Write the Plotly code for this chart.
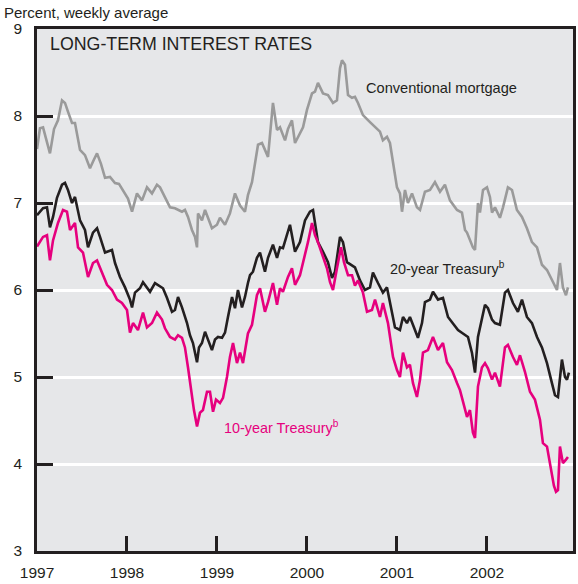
import plotly.graph_objects as go
import numpy as np

# ---- data (offsets in years from Jan 1997, rates in percent) ----
mort_t = [0.000, 0.011, 0.033, 0.067, 0.100, 0.144, 0.189, 0.233, 0.278, 0.311, 0.344, 0.389, 0.422, 0.478,
          0.533, 0.589, 0.633, 0.667, 0.711, 0.756, 0.811, 0.867, 0.911, 0.956, 1.011, 1.056, 1.111, 1.167,
          1.222, 1.278, 1.333, 1.367, 1.422, 1.478, 1.533, 1.611, 1.644, 1.678, 1.722, 1.756, 1.778, 1.789,
          1.833, 1.867, 1.900, 1.944, 2.000, 2.033, 2.089, 2.144, 2.200, 2.256, 2.311, 2.344, 2.389, 2.422,
          2.456, 2.500, 2.533, 2.567, 2.622, 2.667, 2.700, 2.756, 2.789, 2.833, 2.867, 2.922, 2.956, 3.000,
          3.056, 3.089, 3.122, 3.178, 3.233, 3.289, 3.333, 3.367, 3.389, 3.422, 3.456, 3.500, 3.533, 3.567,
          3.622, 3.700, 3.756, 3.811, 3.844, 3.889, 3.922, 3.956, 4.000, 4.033, 4.056, 4.089, 4.122, 4.167,
          4.222, 4.256, 4.311, 4.367, 4.422, 4.478, 4.533, 4.589, 4.667, 4.722, 4.756, 4.778, 4.844, 4.867,
          4.900, 4.922, 4.956, 5.000, 5.033, 5.056, 5.089, 5.144, 5.178, 5.233, 5.278, 5.333, 5.389, 5.444,
          5.500, 5.556, 5.611, 5.667, 5.722, 5.778, 5.811, 5.844, 5.878, 5.900]
mort_v = [7.62, 7.72, 7.86, 7.87, 7.75, 7.57, 7.85, 7.95, 8.18, 8.15, 8.05, 7.92, 7.92, 7.61,
          7.55, 7.40, 7.50, 7.57, 7.45, 7.29, 7.30, 7.23, 7.22, 7.15, 7.05, 6.90, 7.11, 7.03,
          7.18, 7.11, 7.21, 7.18, 7.06, 6.95, 6.94, 6.90, 6.92, 6.84, 6.69, 6.61, 6.49, 6.88,
          6.80, 6.92, 6.83, 6.71, 6.75, 6.83, 6.75, 6.88, 7.11, 6.97, 6.90, 7.09, 7.24, 7.44,
          7.67, 7.69, 7.60, 7.53, 8.15, 7.84, 7.87, 7.72, 7.85, 7.95, 7.69, 7.80, 7.87, 8.07,
          8.26, 8.28, 8.38, 8.26, 8.24, 8.15, 8.18, 8.55, 8.64, 8.59, 8.24, 8.21, 8.22, 8.15,
          8.01, 7.93, 7.87, 7.82, 7.72, 7.76, 7.69, 7.46, 7.18, 7.11, 6.90, 7.15, 7.00, 7.11,
          6.95, 6.92, 7.13, 7.15, 7.24, 7.13, 7.21, 7.03, 6.92, 6.89, 6.69, 6.66, 6.49, 6.46,
          7.00, 6.89, 7.15, 7.18, 7.07, 6.89, 6.95, 6.83, 6.95, 7.18, 7.15, 6.92, 6.84, 6.71,
          6.55, 6.49, 6.29, 6.23, 6.11, 6.00, 6.31, 6.03, 5.94, 6.03]

t20_t = [0.000, 0.067, 0.111, 0.144, 0.178, 0.222, 0.278, 0.311, 0.344, 0.389, 0.422, 0.478, 0.533, 0.567,
         0.622, 0.667, 0.700, 0.756, 0.833, 0.867, 0.922, 0.978, 1.033, 1.056, 1.089, 1.144, 1.178, 1.222,
         1.256, 1.311, 1.344, 1.400, 1.444, 1.500, 1.533, 1.567, 1.611, 1.667, 1.700, 1.733, 1.778, 1.800,
         1.833, 1.867, 1.900, 1.944, 1.978, 2.011, 2.056, 2.089, 2.122, 2.167, 2.200, 2.233, 2.278, 2.311,
         2.344, 2.367, 2.400, 2.444, 2.478, 2.533, 2.567, 2.622, 2.667, 2.700, 2.733, 2.778, 2.811, 2.867,
         2.922, 2.978, 3.033, 3.067, 3.089, 3.122, 3.178, 3.233, 3.278, 3.311, 3.367, 3.400, 3.444, 3.500,
         3.533, 3.589, 3.644, 3.700, 3.733, 3.789, 3.844, 3.889, 3.922, 3.978, 4.033, 4.067, 4.111, 4.144,
         4.200, 4.233, 4.278, 4.311, 4.367, 4.400, 4.456, 4.511, 4.567, 4.622, 4.678, 4.733, 4.789, 4.833,
         4.867, 4.900, 4.944, 4.978, 5.011, 5.056, 5.089, 5.144, 5.200, 5.233, 5.289, 5.344, 5.389, 5.444,
         5.500, 5.556, 5.611, 5.667, 5.722, 5.756, 5.789, 5.833, 5.867, 5.889, 5.911]
t20_v = [6.86, 6.94, 6.95, 6.72, 6.84, 7.06, 7.21, 7.23, 7.15, 7.00, 7.07, 6.80, 6.69, 6.49,
         6.66, 6.71, 6.61, 6.43, 6.46, 6.31, 6.15, 6.03, 5.89, 5.80, 5.97, 6.02, 6.09, 6.03,
         5.98, 6.08, 6.06, 6.02, 5.91, 5.75, 5.77, 5.92, 5.80, 5.62, 5.48, 5.39, 5.17, 5.34,
         5.39, 5.52, 5.43, 5.31, 5.43, 5.46, 5.45, 5.51, 5.69, 5.92, 5.79, 6.00, 5.80, 5.92,
         6.08, 6.17, 6.21, 6.37, 6.43, 6.21, 6.37, 6.52, 6.37, 6.49, 6.48, 6.63, 6.75, 6.44,
         6.55, 6.80, 6.90, 6.92, 6.75, 6.55, 6.44, 6.32, 6.14, 6.21, 6.61, 6.55, 6.32, 6.28,
         6.26, 6.11, 6.00, 6.03, 6.20, 6.08, 5.97, 6.03, 5.85, 5.57, 5.54, 5.69, 5.62, 5.69,
         5.54, 5.45, 5.62, 5.86, 5.89, 5.98, 5.89, 5.91, 5.69, 5.62, 5.54, 5.50, 5.46, 5.28,
         5.05, 5.46, 5.68, 5.83, 5.79, 5.66, 5.62, 5.60, 5.97, 6.00, 5.85, 5.75, 5.89, 5.69,
         5.62, 5.46, 5.34, 5.16, 4.93, 4.79, 4.77, 5.20, 5.00, 4.97, 5.05]

t10_t = [0.000, 0.067, 0.111, 0.144, 0.178, 0.233, 0.289, 0.333, 0.367, 0.422, 0.456, 0.511, 0.567, 0.622,
         0.667, 0.722, 0.778, 0.833, 0.889, 0.944, 1.000, 1.033, 1.067, 1.122, 1.178, 1.222, 1.278, 1.333,
         1.389, 1.422, 1.478, 1.533, 1.567, 1.611, 1.644, 1.678, 1.711, 1.744, 1.778, 1.811, 1.844, 1.889,
         1.922, 1.956, 1.989, 2.033, 2.067, 2.111, 2.144, 2.178, 2.222, 2.256, 2.289, 2.344, 2.389, 2.444,
         2.478, 2.533, 2.567, 2.622, 2.667, 2.700, 2.733, 2.789, 2.833, 2.867, 2.922, 2.978, 3.011, 3.056,
         3.089, 3.122, 3.178, 3.222, 3.256, 3.289, 3.333, 3.378, 3.411, 3.456, 3.500, 3.533, 3.567, 3.622,
         3.667, 3.722, 3.756, 3.811, 3.844, 3.900, 3.956, 4.000, 4.033, 4.067, 4.111, 4.144, 4.178, 4.222,
         4.256, 4.289, 4.344, 4.400, 4.456, 4.511, 4.556, 4.611, 4.667, 4.700, 4.733, 4.778, 4.811, 4.844,
         4.867, 4.900, 4.944, 4.978, 5.011, 5.056, 5.089, 5.144, 5.200, 5.233, 5.289, 5.333, 5.367, 5.422,
         5.478, 5.533, 5.589, 5.622, 5.667, 5.711, 5.744, 5.767, 5.789, 5.811, 5.844, 5.878, 5.900]
t10_v = [6.50, 6.61, 6.63, 6.34, 6.57, 6.77, 6.92, 6.90, 6.69, 6.77, 6.49, 6.43, 6.15, 6.31,
         6.34, 6.21, 6.06, 6.00, 5.89, 5.85, 5.77, 5.51, 5.62, 5.54, 5.74, 5.57, 5.62, 5.74,
         5.66, 5.56, 5.46, 5.43, 5.48, 5.45, 5.34, 5.11, 4.85, 4.62, 4.43, 4.59, 4.62, 4.83,
         4.83, 4.60, 4.74, 4.70, 4.76, 5.00, 5.23, 5.39, 5.16, 5.28, 5.16, 5.50, 5.60, 5.94,
         6.02, 5.75, 5.86, 6.08, 5.83, 6.02, 5.98, 6.15, 6.25, 6.06, 6.17, 6.40, 6.55, 6.77,
         6.63, 6.55, 6.37, 6.25, 6.09, 6.00, 6.25, 6.49, 6.32, 6.17, 6.17, 6.05, 6.11, 5.97,
         5.75, 5.77, 5.89, 5.69, 5.85, 5.62, 5.23, 5.08, 5.00, 5.28, 5.11, 5.14, 4.93, 4.77,
         4.97, 5.28, 5.31, 5.46, 5.31, 5.39, 5.17, 5.08, 4.93, 4.85, 4.72, 4.54, 4.62, 4.36,
         4.30, 4.89, 5.11, 5.16, 5.10, 4.97, 5.05, 4.89, 5.34, 5.37, 5.23, 5.14, 5.25, 5.06,
         4.83, 4.74, 4.51, 4.24, 4.20, 3.93, 3.75, 3.68, 3.70, 4.20, 4.01, 4.05, 4.08]

start_year = 1997
year_ticks = [1997, 1998, 1999, 2000, 2001, 2002]
y_ticks = [3, 4, 5, 6, 7, 8, 9]

FONT = "Liberation Sans, Arial, Helvetica, sans-serif"
TXT = "#231f20"
PINK = "#e6007e"

fig = go.Figure()
series = [
    (mort_t, mort_v, "Conventional mortgage", "#9a9a9a"),
    (t20_t, t20_v, "20-year Treasury", "#231f20"),
    (t10_t, t10_v, "10-year Treasury", PINK),
]
for t, v, name, col in series:
    fig.add_trace(go.Scatter(x=start_year + np.array(t), y=v, mode="lines", name=name,
                             line=dict(color=col, width=2.6), showlegend=False))

fig.update_layout(
    template="none",
    width=578, height=584,
    margin=dict(l=37, r=5, t=29, b=33, autoexpand=False),
    paper_bgcolor="white", plot_bgcolor="#e6e7e9",
    font=dict(family=FONT, color=TXT, size=15),
)
fig.update_xaxes(range=[1997, 2002.956], tickvals=year_ticks, ticktext=[str(y) for y in year_ticks],
                 showgrid=False, zeroline=False, showline=True, linecolor=TXT, linewidth=2.5, mirror=True,
                 ticks="inside", ticklen=15, tickwidth=2.5, tickcolor=TXT, ticklabelstandoff=6,
                 automargin=False, tickfont=dict(family=FONT, size=15.5, color=TXT))
fig.update_yaxes(range=[3, 9], tickvals=y_ticks, showgrid=True, gridcolor="white", gridwidth=3,
                 zeroline=False, showline=True, linecolor=TXT, linewidth=2.5, mirror=True,
                 ticks="inside", ticklen=16, tickwidth=2.5, tickcolor=TXT, ticklabelstandoff=9,
                 automargin=False, tickfont=dict(family=FONT, size=15.5, color=TXT))

fig.add_annotation(xref="paper", yref="paper", x=-0.0653, y=1.0307, xanchor="left", yanchor="middle",
                   text="Percent, weekly average", showarrow=False, font=dict(family=FONT, size=15, color=TXT))
fig.add_annotation(xref="paper", yref="paper", x=0.0205, y=0.9713, xanchor="left", yanchor="middle",
                   text="LONG-TERM INTEREST RATES", showarrow=False, font=dict(family=FONT, size=17.8, color=TXT))
fig.add_annotation(x=2000.633, y=8.32, xanchor="left", yanchor="middle", text="Conventional mortgage",
                   showarrow=False, font=dict(family=FONT, size=14.6, color=TXT))
fig.add_annotation(x=2000.9, y=6.25, xanchor="left", yanchor="middle", text="20-year Treasury<sup>b</sup>",
                   showarrow=False, font=dict(family=FONT, size=14.4, color=TXT))
fig.add_annotation(x=1999.056, y=4.43, xanchor="left", yanchor="middle", text="10-year Treasury<sup>b</sup>",
                   showarrow=False, font=dict(family=FONT, size=14.4, color=PINK))

fig.write_html("out.html", config={"displayModeBar": False},
               post_script="document.body.style.margin='0';")
